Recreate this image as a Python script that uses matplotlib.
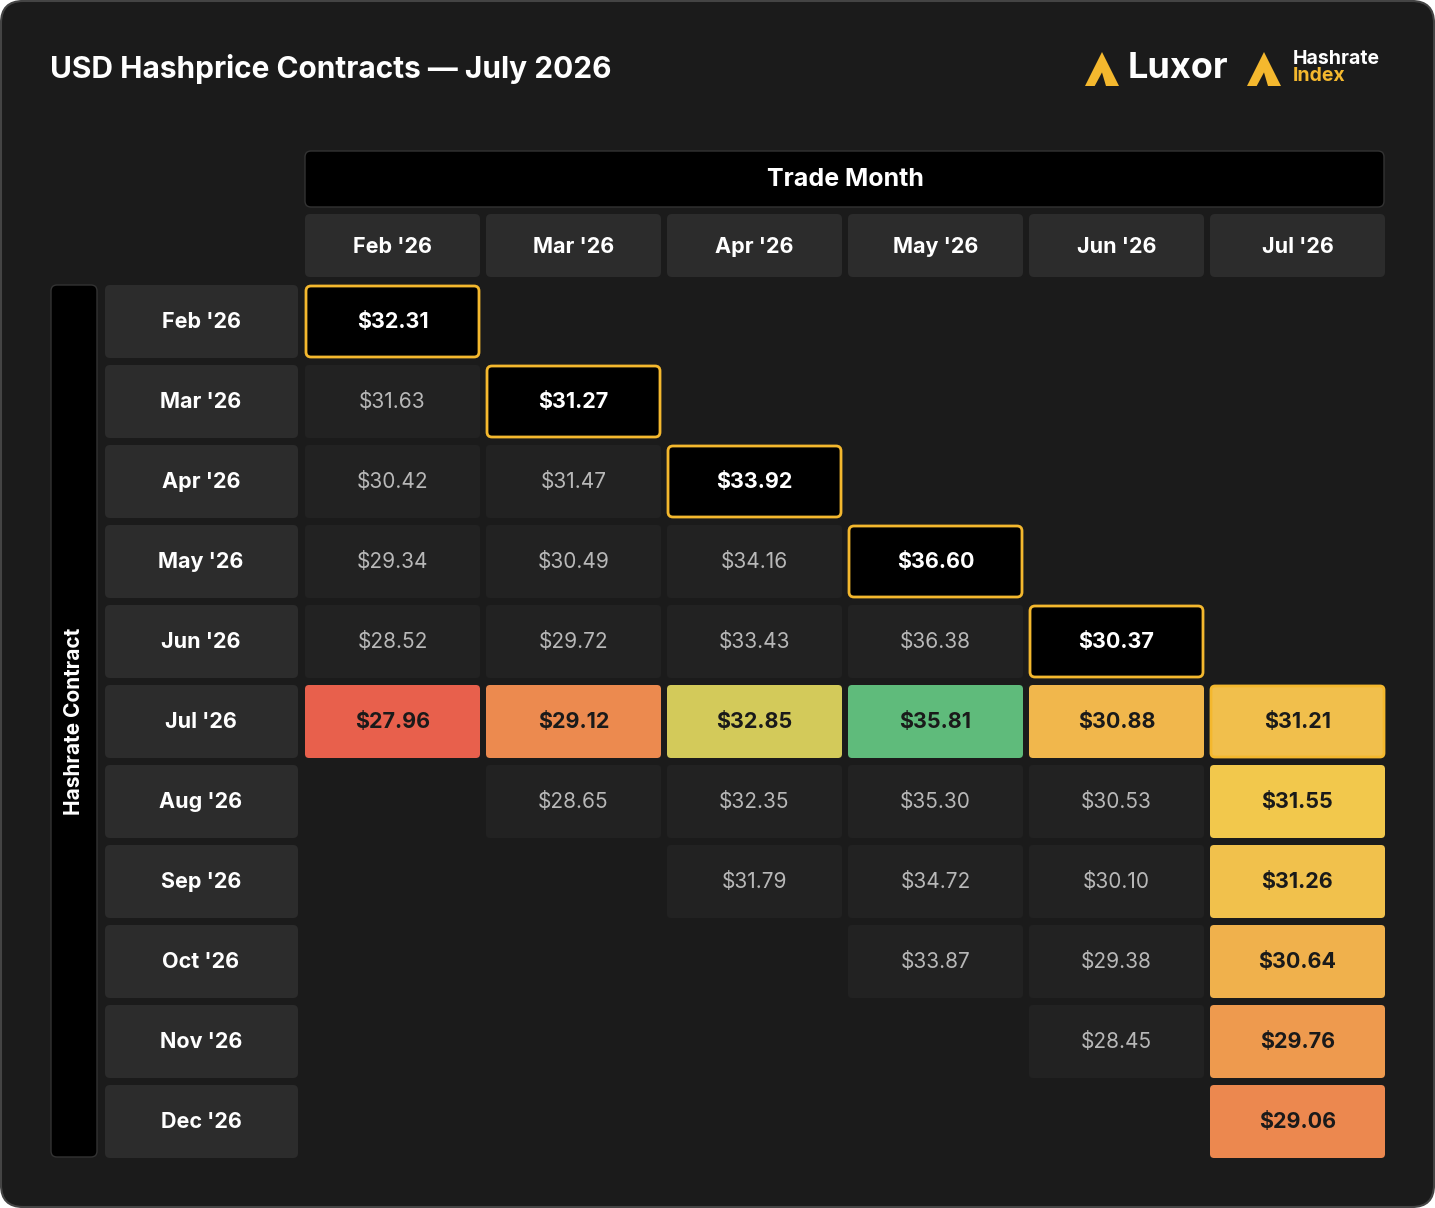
import matplotlib
matplotlib.use("Agg")
import matplotlib.pyplot as plt
from matplotlib.patches import FancyBboxPatch, Polygon
from matplotlib.colors import LinearSegmentedColormap

plt.rcParams['font.family'] = ['Inter', 'DejaVu Sans']

# Data
trade_months = ["Feb '26", "Mar '26", "Apr '26", "May '26", "Jun '26", "Jul '26"]
contracts = ["Feb '26", "Mar '26", "Apr '26", "May '26", "Jun '26", "Jul '26",
             "Aug '26", "Sep '26", "Oct '26", "Nov '26", "Dec '26"]
# one list per trade month, values for contracts starting at that month
col_feb = [32.31, 31.63, 30.42, 29.34, 28.52, 27.96]
col_mar = [31.27, 31.47, 30.49, 29.72, 29.12, 28.65]
col_apr = [33.92, 34.16, 33.43, 32.85, 32.35, 31.79]
col_may = [36.60, 36.38, 35.81, 35.30, 34.72, 33.87]
col_jun = [30.37, 30.88, 30.53, 30.10, 29.38, 28.45]
col_jul = [31.21, 31.55, 31.26, 30.64, 29.76, 29.06]
columns = [col_feb, col_mar, col_apr, col_may, col_jun, col_jul]

BG = "#1b1b1b"
CELL = "#222222"
HEAD = "#2c2c2c"
GOLD = "#f4b82e"

cmap = LinearSegmentedColormap.from_list("hp", [
    (0.0, "#e8604c"), ((29.1 - 27.96) / 7.85, "#ec8a4f"),
    ((30.6 - 27.96) / 7.85, "#f0b04c"), ((31.55 - 27.96) / 7.85, "#f2c84c"),
    ((32.85 - 27.96) / 7.85, "#d3ca5a"), (1.0, "#5fbb7b")])

def vcolor(v):
    return cmap((v - 27.96) / (35.81 - 27.96))

fig = plt.figure(figsize=(14.35, 12.08), dpi=100, facecolor="white")
ax = fig.add_axes([0, 0, 1, 1])
ax.set_xlim(0, 1435)
ax.set_ylim(1208, 0)
ax.axis("off")

def box(x, y, w, h, fc, ec="none", lw=0, r=5):
    ax.add_patch(FancyBboxPatch((x + r, y + r), w - 2 * r, h - 2 * r,
                                boxstyle=f"round,pad={r}", fc=fc, ec=ec, lw=lw))

box(1, 1, 1433, 1206, BG, ec="#444444", lw=1.5, r=22)

ax.text(50, 69, "USD Hashprice Contracts — July 2026", color="white",
        fontsize=21.5, fontweight="bold", va="center", ha="left")

# logos
def logo(x, y, s):
    ax.add_patch(Polygon([(x, y + s), (x + s * 0.5, y), (x + s, y + s)],
                         closed=True, fc=GOLD, ec="none", joinstyle="round"))
    ax.add_patch(Polygon([(x + s * 0.28, y + s * 1.01), (x + s * 0.5, y + s * 0.6),
                          (x + s * 0.62, y + s * 1.01)], closed=True, fc=BG, ec="none"))
logo(1085, 52, 34)
ax.text(1128, 68, "Luxor", color="white", fontsize=26, fontweight="bold", va="center")
logo(1247, 52, 34)
ax.text(1293, 59, "Hashrate", color="white", fontsize=14, fontweight="bold", va="center")
ax.text(1293, 76, "Index", color=GOLD, fontsize=14, fontweight="bold", va="center")

x0, cw, cs = 305, 175, 181
y0, rh, rs = 285, 73, 80

box(305, 151, 1079, 56, "black", ec="#333333", lw=1, r=6)
ax.text(845, 180, "Trade Month", color="white", fontsize=18, fontweight="bold",
        ha="center", va="center")
box(51, 285, 46, 872, "black", ec="#333333", lw=1, r=6)
ax.text(74, 721, "Hashrate Contract", color="white", fontsize=15, fontweight="bold",
        ha="center", va="center", rotation=90)

for j, m in enumerate(trade_months):
    x = x0 + j * cs
    box(x, 214, cw, 63, HEAD)
    ax.text(x + cw / 2, 247, m, color="white", fontsize=15.5, fontweight="bold",
            ha="center", va="center")

for i, c in enumerate(contracts):
    y = y0 + i * rs
    box(105, y, 193, rh, HEAD)
    ax.text(201, y + rh / 2 + 1, c, color="white", fontsize=15.5, fontweight="bold",
            ha="center", va="center")

for j, vals in enumerate(columns):
    x = x0 + j * cs
    for k, v in enumerate(vals):
        i = j + k
        y = y0 + i * rs
        label = f"${v:.2f}"
        ty = y + rh / 2 + 1
        if k == 0 and j < 5:
            box(x + 1, y + 1, cw - 2, rh - 2, "black", ec=GOLD, lw=2, r=5)
            ax.text(x + cw / 2, ty, label, color="white", fontsize=15.5,
                    fontweight="bold", ha="center", va="center")
        elif i == 5 or j == 5:
            if k == 0:
                box(x + 1, y + 1, cw - 2, rh - 2, vcolor(v), ec=GOLD, lw=2, r=4)
            else:
                box(x, y, cw, rh, vcolor(v), r=4)
            ax.text(x + cw / 2, ty, label, color="#1a1a1a", fontsize=15.5,
                    fontweight="bold", ha="center", va="center")
        else:
            box(x, y, cw, rh, CELL, r=4)
            ax.text(x + cw / 2, ty, label, color="#b8b8b8", fontsize=15,
                    ha="center", va="center")

fig.savefig("out.png", dpi=100, facecolor="white")
